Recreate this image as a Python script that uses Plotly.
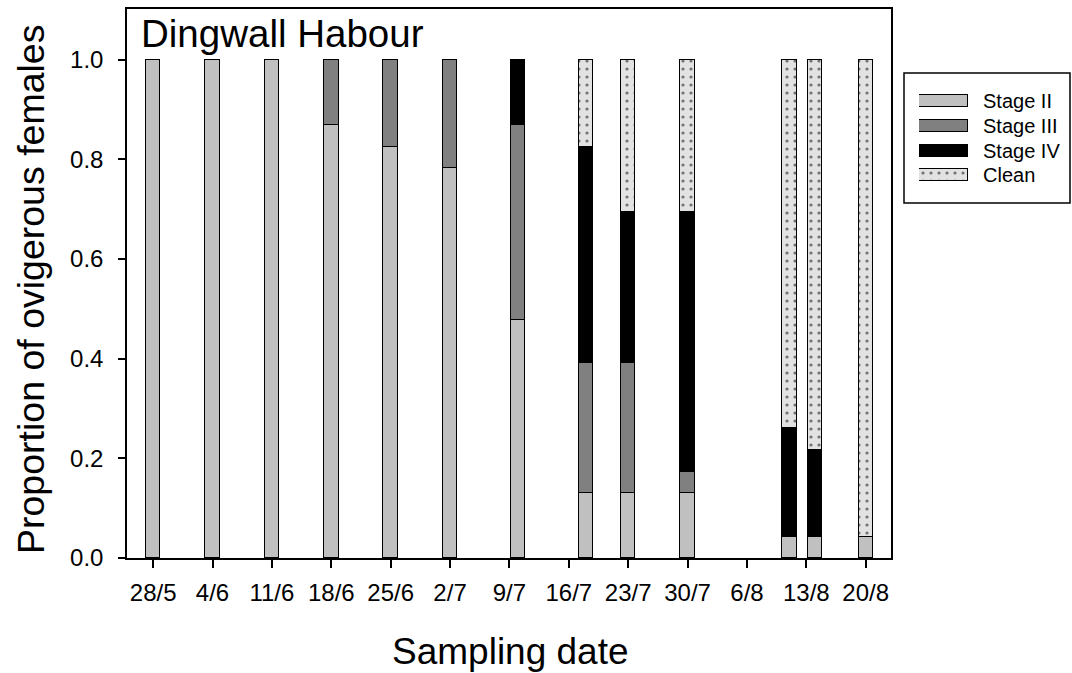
import plotly.graph_objects as go

# Sampling dates (year is nominal; only day/month is shown)
sample_dates = ["2014-05-28", "2014-06-04", "2014-06-11", "2014-06-18", "2014-06-25",
                "2014-07-02", "2014-07-10", "2014-07-18", "2014-07-23", "2014-07-30",
                "2014-08-11", "2014-08-14", "2014-08-20"]

# Proportion of ovigerous females in each egg stage
stage_ii = [1.0, 1.0, 1.0, 0.870, 0.826, 0.783, 0.478, 0.130, 0.130, 0.130, 0.043, 0.043, 0.043]
stage_iii = [0.0, 0.0, 0.0, 0.130, 0.174, 0.217, 0.391, 0.261, 0.261, 0.043, 0.0, 0.0, 0.0]
stage_iv = [0.0, 0.0, 0.0, 0.0, 0.0, 0.0, 0.130, 0.435, 0.304, 0.522, 0.217, 0.174, 0.0]
clean = [0.0, 0.0, 0.0, 0.0, 0.0, 0.0, 0.0, 0.174, 0.304, 0.304, 0.739, 0.783, 0.957]

tick_dates = ["2014-05-28", "2014-06-04", "2014-06-11", "2014-06-18", "2014-06-25",
              "2014-07-02", "2014-07-09", "2014-07-16", "2014-07-23", "2014-07-30",
              "2014-08-06", "2014-08-13", "2014-08-20"]
tick_labels = ["28/5", "4/6", "11/6", "18/6", "25/6", "2/7", "9/7", "16/7",
               "23/7", "30/7", "6/8", "13/8", "20/8"]

series_names = ["Stage II", "Stage III", "Stage IV", "Clean"]

FONT = "Liberation Sans, Arial, sans-serif"
W, H = 1072, 673
ML, MR, MT, MB = 127, 0, 9, 115
PW, PH = W - ML - MR, H - MT - MB


def px_x(px):
    return (px - ML) / PW


def px_y(py):
    return (H - MB - py) / PH


DAY_MS = 86400000
BAR_W = 1.7 * DAY_MS

styles = {
    "Stage II": dict(color="#c0c0c0"),
    "Stage III": dict(color="#808080"),
    "Stage IV": dict(color="#000000"),
    "Clean": dict(color="#e2e2e2",
                  pattern=dict(shape=".", fgcolor="#000000", fillmode="overlay",
                               size=8, solidity=0.12)),
}

fig = go.Figure()

for name, vals in zip(series_names, [stage_ii, stage_iii, stage_iv, clean]):
    fig.add_trace(go.Bar(
        x=sample_dates,
        y=[v if v > 0 else None for v in vals],
        width=[BAR_W] * len(sample_dates),
        name=name,
        marker=dict(line=dict(color="#000000", width=1.5), **styles[name]),
        showlegend=False,
        xaxis="x", yaxis="y",
    ))

# Legend swatches drawn as small horizontal bars on their own axes (pixel units)
legend_rows = [28, 53, 77.5, 102]
for name, row in zip(series_names, legend_rows):
    fig.add_trace(go.Bar(
        x=[1], y=[row], base=0, orientation="h", width=12,
        marker=dict(line=dict(color="#000000", width=1.5), **styles[name]),
        showlegend=False, hoverinfo="skip",
        xaxis="x2", yaxis="y2",
    ))

axis_common = dict(showline=True, linecolor="#000000", linewidth=1.5, mirror=True,
                   showgrid=False, zeroline=False, ticks="outside",
                   tickcolor="#000000", tickwidth=1.5,
                   tickfont=dict(family=FONT, size=24, color="#000000"))

fig.update_layout(
    width=W, height=H,
    margin=dict(l=ML, r=MR, t=MT, b=MB, pad=0),
    paper_bgcolor="white", plot_bgcolor="white",
    barmode="stack", bargap=0,
    showlegend=False,
    xaxis=dict(type="date", domain=[0, px_x(891)],
               range=["2014-05-24 22:00", "2014-08-22 23:30"],
               tickvals=tick_dates, ticktext=tick_labels, ticklen=8,
               ticklabelstandoff=4, **axis_common),
    yaxis=dict(range=[0, 1.102], tickvals=[0, 0.2, 0.4, 0.6, 0.8, 1.0],
               tickformat=".1f", ticklen=7, ticklabelstandoff=10, **axis_common),
    xaxis2=dict(domain=[px_x(919), px_x(968)], range=[0, 1], visible=False,
                anchor="y2", fixedrange=True),
    yaxis2=dict(domain=[px_y(203), px_y(73)], range=[130, 0], visible=False,
                anchor="x2", fixedrange=True),
    shapes=[dict(type="rect", xref="paper", yref="paper",
                 x0=px_x(904), x1=px_x(1070), y0=px_y(203), y1=px_y(73),
                 line=dict(color="#000000", width=1.5), fillcolor="rgba(0,0,0,0)")],
)

annotations = [
    dict(text="Dingwall Habour", xref="paper", yref="paper",
         x=px_x(139), y=px_y(34), xanchor="left", yanchor="middle",
         showarrow=False, font=dict(family=FONT, size=38.5, color="#000000")),
    dict(text="Sampling date", xref="paper", yref="paper",
         x=px_x(510), y=px_y(651), xanchor="center", yanchor="middle",
         showarrow=False, font=dict(family=FONT, size=37, color="#000000")),
    dict(text="Proportion of ovigerous females", xref="paper", yref="paper",
         x=px_x(31), y=px_y(290), xanchor="center", yanchor="middle", textangle=-90,
         showarrow=False, font=dict(family=FONT, size=37.5, color="#000000")),
]
for name, row in zip(series_names, legend_rows):
    annotations.append(dict(text=name, xref="paper", yref="y2", x=px_x(981), y=row,
                            xanchor="left", yanchor="middle", showarrow=False,
                            font=dict(family=FONT, size=20, color="#000000")))
fig.update_layout(annotations=annotations)

fig.write_html("out.html")
